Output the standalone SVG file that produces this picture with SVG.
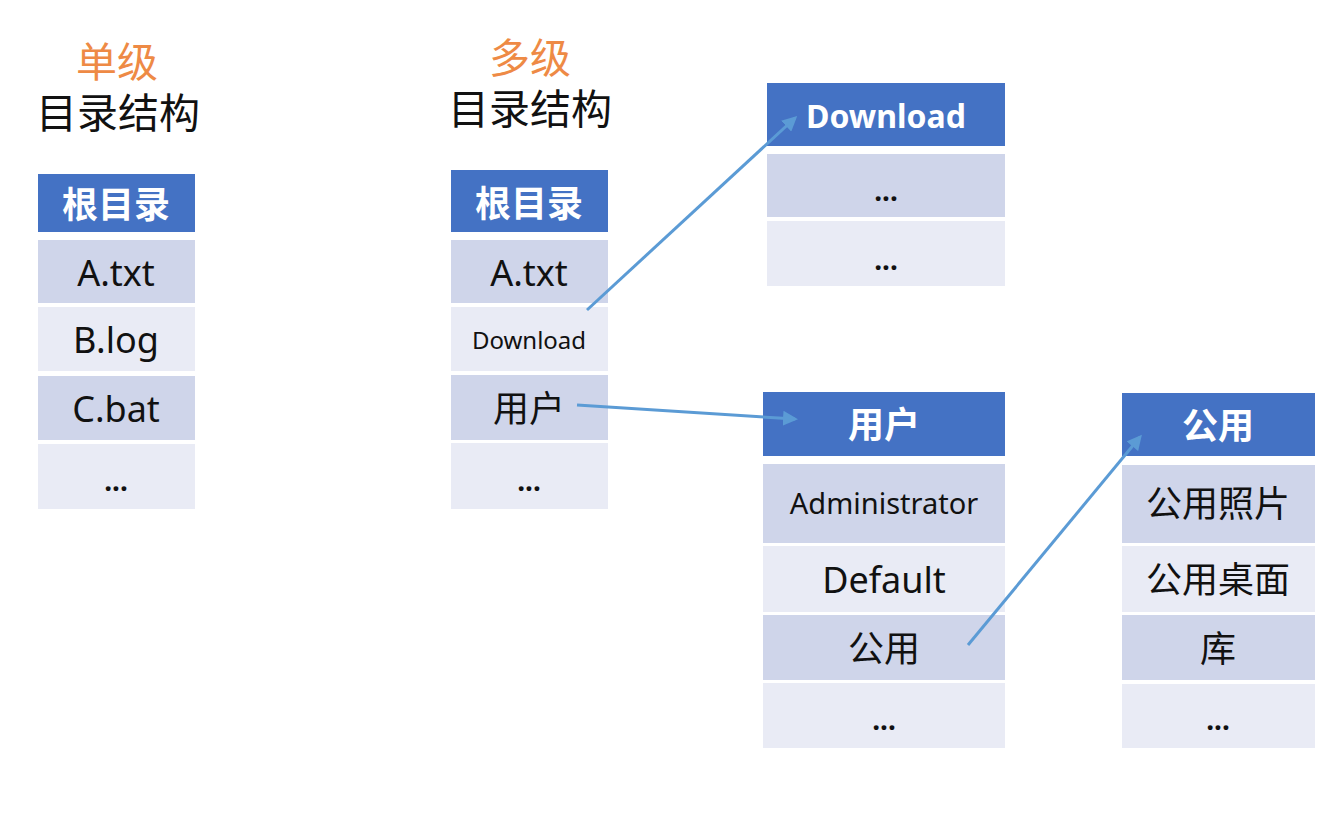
<svg xmlns="http://www.w3.org/2000/svg" width="1343" height="817" viewBox="0 0 1343 817">
<style>
text{font-family:"Noto Sans","Noto Sans CJK SC",sans-serif;text-anchor:middle;dominant-baseline:central;fill:#111}
.hd{fill:#4472C4}
.dk{fill:#CFD5EA}
.lt{fill:#E9EBF5}
.ht{fill:#fff;font-weight:bold;font-size:36px}
.rt{font-size:36px}
.tt{font-size:41px}
.or{fill:#EE8A45}
.dt{font-size:28px;font-weight:bold}
.cn{stroke:#5B9BD5;stroke-width:3;fill:none;marker-end:url(#ah)}
</style>
<defs>
<marker id="ah" viewBox="0 0 10 10" refX="8" refY="5" markerWidth="5" markerHeight="5" orient="auto" markerUnits="strokeWidth">
<path d="M0,0 L10,5 L0,10 z" fill="#5B9BD5"/>
</marker>
</defs>
<rect width="1343" height="817" fill="#fff"/>
<g id="title-single">
<text class="tt or" x="117" y="61">单级</text>
<text class="tt" x="118" y="112">目录结构</text>
</g>
<g id="title-multi">
<text class="tt or" x="530" y="57">多级</text>
<text class="tt" x="530" y="108">目录结构</text>
</g>
<g id="single-root">
<rect class="hd" x="38" y="174" width="157" height="58"/>
<text class="ht" x="116" y="204">根目录</text>
<rect class="dk" x="38" y="240" width="157" height="63"/>
<text class="rt" x="116" y="272">A.txt</text>
<rect class="lt" x="38" y="307" width="157" height="64"/>
<text class="rt" x="116" y="339">B.log</text>
<rect class="dk" x="38" y="376" width="157" height="64"/>
<text class="rt" x="116" y="408">C.bat</text>
<rect class="lt" x="38" y="444" width="157" height="65"/>
<text class="dt" x="116" y="480">...</text>
</g>
<g id="multi-root">
<rect class="hd" x="451" y="170" width="157" height="62"/>
<text class="ht" x="529" y="203">根目录</text>
<rect class="dk" x="451" y="240" width="157" height="63"/>
<text class="rt" x="529" y="272">A.txt</text>
<rect class="lt" x="451" y="307" width="157" height="64"/>
<text x="529" y="339" style="font-size:24px">Download</text>
<rect class="dk" x="451" y="375" width="157" height="65"/>
<text class="rt" x="529" y="408">用户</text>
<rect class="lt" x="451" y="443" width="157" height="66"/>
<text class="dt" x="529" y="480">...</text>
</g>
<g id="download">
<rect class="hd" x="767" y="83" width="238" height="63"/>
<text class="ht" x="886" y="115" style="font-size:32px">Download</text>
<rect class="dk" x="767" y="154" width="238" height="63"/>
<text class="dt" x="886" y="190">...</text>
<rect class="lt" x="767" y="221" width="238" height="65"/>
<text class="dt" x="886" y="259">...</text>
</g>
<g id="users">
<rect class="hd" x="763" y="392" width="242" height="64"/>
<text class="ht" x="884" y="424">用户</text>
<rect class="dk" x="763" y="464" width="242" height="79"/>
<text x="884" y="502" style="font-size:29px">Administrator</text>
<rect class="lt" x="763" y="546" width="242" height="66"/>
<text class="rt" x="884" y="579">Default</text>
<rect class="dk" x="763" y="615" width="242" height="65"/>
<text class="rt" x="884" y="648">公用</text>
<rect class="lt" x="763" y="683" width="242" height="65"/>
<text class="dt" x="884" y="719">...</text>
</g>
<g id="public">
<rect class="hd" x="1122" y="393" width="193" height="63"/>
<text class="ht" x="1218" y="425">公用</text>
<rect class="dk" x="1122" y="465" width="193" height="78"/>
<text class="rt" x="1218" y="503">公用照片</text>
<rect class="lt" x="1122" y="546" width="193" height="66"/>
<text class="rt" x="1218" y="579">公用桌面</text>
<rect class="dk" x="1122" y="615" width="193" height="65"/>
<text class="rt" x="1218" y="648">库</text>
<rect class="lt" x="1122" y="684" width="193" height="64"/>
<text class="dt" x="1218" y="719">...</text>
</g>
<g id="connectors">
<path class="cn" d="M587,310 L795,118"/>
<path class="cn" d="M577,405 L795,419"/>
<path class="cn" d="M968,645 L1140,437"/>
</g>
</svg>
